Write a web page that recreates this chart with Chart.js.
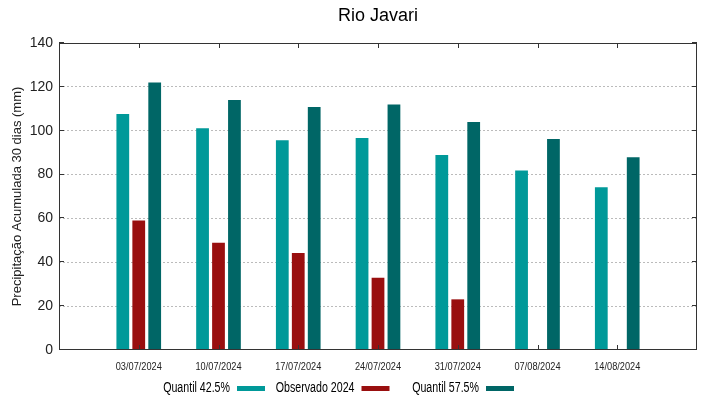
<!DOCTYPE html>
<html>
<head>
<meta charset="utf-8">
<script src="https://cdn.jsdelivr.net/npm/chart.js@4/dist/chart.umd.min.js"></script>
<style>
  html, body { margin: 0; padding: 0; background: #fff; }
  #wrap { width: 719px; height: 399px; }
</style>
</head>
<body>
<div id="wrap"><canvas id="rioChart" width="719" height="399"></canvas></div>
<script>
// dados
const datas = ["03/07/2024", "10/07/2024", "17/07/2024", "24/07/2024", "31/07/2024", "07/08/2024", "14/08/2024"];
const quantil425 = [107.6, 101.1, 95.6, 96.7, 88.9, 81.8, 74.2];
const observado2024 = [59.1, 48.9, 44.2, 33.0, 23.1, null, null];
const quantil575 = [122.0, 114.0, 110.8, 112.0, 104.0, 96.2, 87.9];
const yTicks = [0, 20, 40, 60, 80, 100, 120, 140];

const toPoints = (arr) => arr.map((v, i) => ({ x: i, y: v }));

const fonte = "'Liberation Sans', Arial, sans-serif";

// texto estreito (a fonte do original é condensada)
function textoEstreito(ctx, txt, x, y, escala) {
    ctx.save();
    ctx.translate(x, y);
    ctx.scale(escala, 1);
    ctx.fillText(txt, 0, 0);
    ctx.restore();
}

// título, moldura, marcas de escala, rótulos do eixo x e legenda no estilo gnuplot
const extras = {
    id: 'extras',
    afterDraw(chart) {
        const ctx = chart.ctx;
        const a = chart.chartArea;
        const xs = chart.scales.x;
        const ys = chart.scales.y;
        ctx.save();

        // título
        ctx.fillStyle = '#000';
        ctx.font = "18px " + fonte;
        ctx.textAlign = 'center';
        ctx.textBaseline = 'middle';
        ctx.fillText('Rio Javari', (a.left + a.right) / 2, 16);

        // moldura
        ctx.strokeStyle = '#333';
        ctx.lineWidth = 1;
        ctx.strokeRect(Math.round(a.left) + 0.5, Math.round(a.top) + 0.5,
            Math.round(a.right - a.left) - 1, Math.round(a.bottom - a.top) - 1);

        // marcas para dentro
        ctx.beginPath();
        yTicks.forEach(v => {
            const y = Math.round(ys.getPixelForValue(v)) - 0.5;
            ctx.moveTo(a.left, y); ctx.lineTo(a.left + 5, y);
            ctx.moveTo(a.right - 5, y); ctx.lineTo(a.right, y);
        });
        datas.forEach((d, i) => {
            const x = Math.round(xs.getPixelForValue(i)) + 0.5;
            ctx.moveTo(x, a.bottom); ctx.lineTo(x, a.bottom - 5);
            ctx.moveTo(x, a.top); ctx.lineTo(x, a.top + 5);
        });
        ctx.stroke();

        // rótulos do eixo x
        ctx.fillStyle = '#222';
        ctx.font = "11.5px " + fonte;
        ctx.textAlign = 'center';
        ctx.textBaseline = 'middle';
        datas.forEach((d, i) => {
            textoEstreito(ctx, d, xs.getPixelForValue(i), 367, 0.8);
        });

        // legenda: texto e depois a amostra
        ctx.font = "14px " + fonte;
        ctx.textAlign = 'right';
        chart.data.datasets.forEach((ds, i) => {
            const xTexto = 230 + i * 124.5;
            ctx.fillStyle = '#000';
            textoEstreito(ctx, ds.label, xTexto, 388, 0.76);
            ctx.fillStyle = ds.backgroundColor;
            ctx.fillRect(xTexto + 7, 386, 28, 5);
        });
        ctx.restore();
    }
};

new Chart(document.getElementById('rioChart'), {
    type: 'bar',
    data: {
        datasets: [
            { label: 'Quantil 42.5%', data: toPoints(quantil425), backgroundColor: '#009999' },
            { label: 'Observado 2024', data: toPoints(observado2024), backgroundColor: '#990f0f' },
            { label: 'Quantil 57.5%', data: toPoints(quantil575), backgroundColor: '#006666' }
        ]
    },
    options: {
        responsive: false,
        animation: false,
        layout: { padding: { top: 43, right: 22, left: 0, bottom: 0 } },
        datasets: { bar: { categoryPercentage: 0.6, barPercentage: 0.8 } },
        plugins: {
            legend: { display: false },
            title: { display: false },
            tooltip: { enabled: false }
        },
        scales: {
            x: {
                type: 'linear',
                min: -1,
                max: 7,
                offset: false,
                afterFit: (s) => { s.height = 49; },
                grid: { display: false },
                border: { display: false },
                ticks: { stepSize: 1, display: false }
            },
            y: {
                min: 0,
                max: 140,
                afterFit: (s) => { s.width = 59; },
                grid: {
                    drawTicks: false,
                    color: (c) => (c.tick && (c.tick.value === 0 || c.tick.value === 140)) ? 'rgba(0,0,0,0)' : '#bbbbbb'
                },
                border: { display: false, dash: [2, 2] },
                ticks: {
                    stepSize: 20,
                    padding: 6,
                    color: '#222',
                    font: { family: fonte, size: 14 }
                },
                title: {
                    display: true,
                    text: 'Precipitação Acumulada 30 dias (mm)',
                    color: '#222',
                    font: { family: fonte, size: 13 },
                    padding: { top: 10, bottom: 0 }
                }
            }
        }
    },
    plugins: [extras]
});
</script>
</body>
</html>
